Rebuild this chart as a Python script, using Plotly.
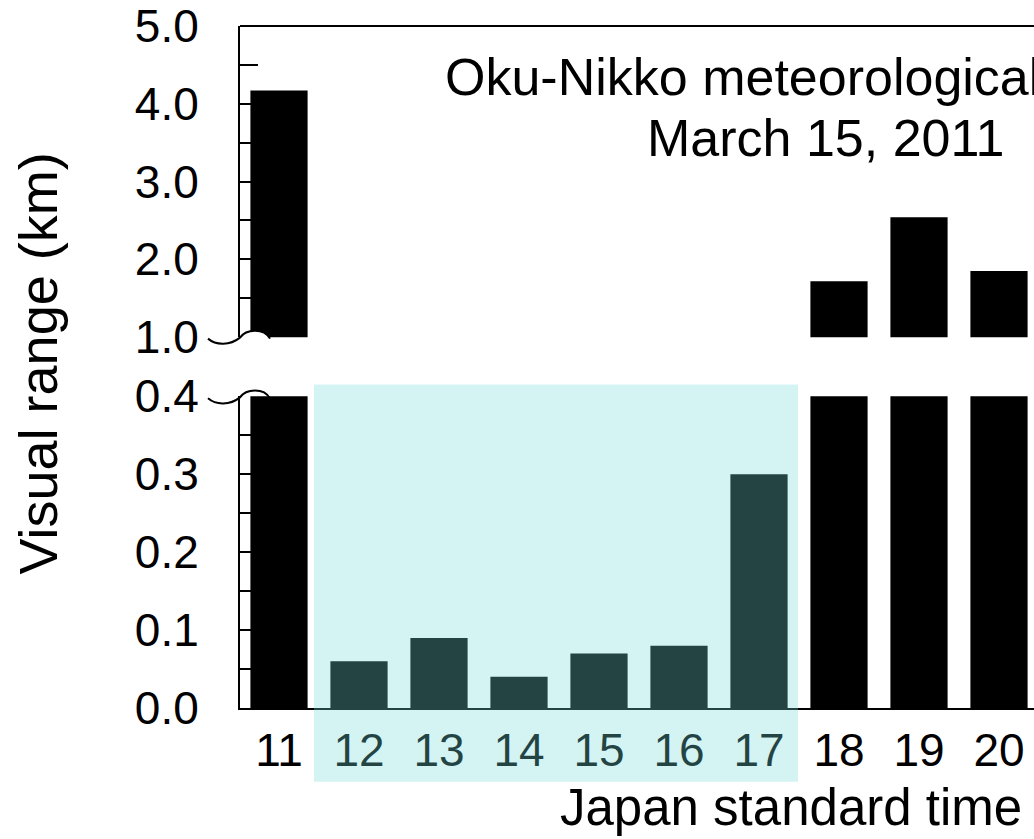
import plotly.graph_objects as go

# Hourly visual range at the Oku-Nikko station (km)
hours = [11, 12, 13, 14, 15, 16, 17, 18, 19, 20]
visual_range = [4.17, 0.06, 0.09, 0.04, 0.07, 0.08, 0.30, 1.72, 2.54, 1.85]
hour_labels = [str(h) for h in hours]

# Broken y axis: low panel 0.0-0.4 km, high panel 1.0-5.0 km
low_ticks = [0.0, 0.1, 0.2, 0.3, 0.4]
high_ticks = [1.0, 2.0, 3.0, 4.0, 5.0]

# Highlighted time window (hours 12-17)
window_start, window_end = 12, 17

W, H = 1034, 839
L, R, T, B = 240, 0, 23, 131
plot_w = W - L - R
plot_h = H - T - B
FONT = "Liberation Sans, Arial, Helvetica, sans-serif"


def px_x(px):
    return (px - L) / plot_w


def px_y(py):
    return (H - B - py) / plot_h


fig = go.Figure()
# same series drawn in both panels; each panel clips it to its own range
fig.add_trace(go.Bar(x=hours, y=visual_range, xaxis="x", yaxis="y",
                     marker=dict(color="black", line=dict(width=0))))
fig.add_trace(go.Bar(x=hours, y=visual_range, xaxis="x", yaxis="y2",
                     marker=dict(color="black", line=dict(width=0))))

axis_common = dict(
    showgrid=False, zeroline=False, showline=True, linecolor="black",
    linewidth=2, ticks="inside", ticklen=18, tickwidth=2, tickcolor="black",
    tickfont=dict(family=FONT, size=46, color="black"),
    layer="below traces", tickformat=".1f", ticklabelstandoff=30,
)

low_top = 395
high_bottom = 335.5

fig.update_layout(
    width=W, height=H,
    margin=dict(l=L, r=R, t=T, b=B, pad=0),
    paper_bgcolor="white", plot_bgcolor="rgba(0,0,0,0)",
    showlegend=False, bargap=0.285,
    xaxis=dict(
        range=[10.5125, 20.4375], anchor="y",
        tickvals=hours, ticktext=hour_labels, ticks="",
        showgrid=False, zeroline=False, showline=True,
        linecolor="black", linewidth=2, layer="below traces",
        tickfont=dict(family=FONT, size=46, color="black"),
        ticklabelstandoff=1,
    ),
    yaxis=dict(domain=[0, px_y(low_top)], range=[0, 0.4], tickvals=low_ticks,
               minor=dict(dtick=0.05, ticks="inside", ticklen=18,
                          tickwidth=2, tickcolor="black"),
               anchor="x", **axis_common),
    yaxis2=dict(domain=[px_y(high_bottom), 1], range=[1, 5],
                tickvals=high_ticks,
                minor=dict(dtick=0.5, ticks="inside", ticklen=18,
                           tickwidth=2, tickcolor="black"),
                anchor="x", **axis_common),
)

shapes = []
# top frame line
shapes.append(dict(type="line", xref="paper", yref="paper", x0=0, x1=1,
                   y0=1, y1=1, line=dict(color="black", width=2)))


def break_path(cy):
    pts = [(208, cy + 1), (216, cy + 8), (230, cy + 8), (240, cy)]
    arc = [(246, cy - 9), (264, cy - 10), (270, cy + 1)]

    def P(p):
        return f"{px_x(p[0]):.5f},{px_y(p[1]):.5f}"
    return (f"M {P(pts[0])} C {P(pts[1])} {P(pts[2])} {P(pts[3])} "
            f"C {P(arc[0])} {P(arc[1])} {P(arc[2])}")


# break marks on the y axis
for cy, fill in [(336, True), (396, False)]:
    if fill:
        shapes.append(dict(
            type="path", xref="paper", yref="paper",
            path=break_path(cy) + " Z",
            fillcolor="white", line=dict(width=0), layer="above"))
    shapes.append(dict(
        type="path", xref="paper", yref="paper",
        path=break_path(cy), line=dict(color="black", width=2),
        layer="above"))

# translucent highlight over the 12-17 h window
shapes.append(dict(
    type="rect", xref="x", yref="paper",
    x0=window_start - 0.5625, x1=window_end + 0.4875,
    y0=px_y(782), y1=px_y(383),
    fillcolor="rgb(116,220,220)", opacity=0.31,
    line=dict(width=0), layer="above"))

fig.update_layout(shapes=shapes)

annotations = [
    dict(text="Oku-Nikko meteorological observatory", xref="paper",
         yref="paper", x=px_x(443), y=px_y(92), xanchor="left",
         yanchor="bottom", showarrow=False, yshift=-13,
         font=dict(family=FONT, size=52, color="black")),
    dict(text="March 15, 2011", xref="paper", yref="paper",
         x=px_x(645), y=px_y(152), xanchor="left", yanchor="bottom",
         showarrow=False, yshift=-15,
         font=dict(family=FONT, size=52, color="black")),
    dict(text="Visual range (km)", xref="paper", yref="paper",
         x=px_x(38), y=px_y(362), xanchor="center", yanchor="middle",
         textangle=-90, showarrow=False,
         font=dict(family=FONT, size=54, color="black")),
    dict(text="Japan standard time", xref="paper", yref="paper",
         x=px_x(791), y=px_y(808), xanchor="center", yanchor="middle",
         showarrow=False,
         font=dict(family=FONT, size=51, color="black")),
]
fig.update_layout(annotations=annotations)

fig.write_html("out.html")
